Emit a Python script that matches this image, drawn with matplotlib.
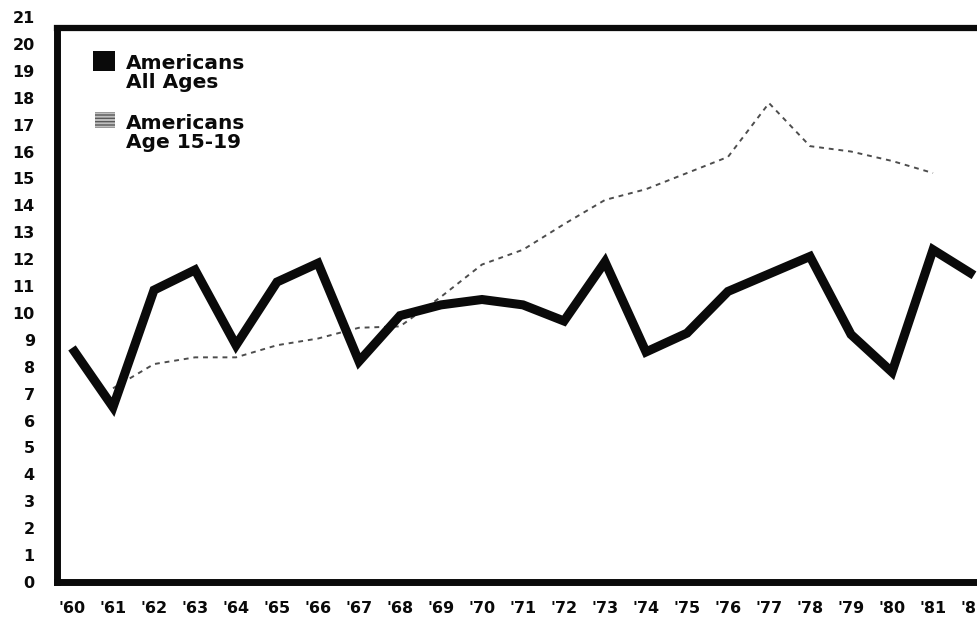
"""Teen vs all-ages rate, 1960-1982: scanned-style line chart."""

import matplotlib

matplotlib.use("Agg")
import matplotlib.pyplot as plt
from matplotlib.patches import Rectangle

years = ["'60", "'61", "'62", "'63", "'64", "'65", "'66", "'67", "'68", "'69", "'70",
         "'71", "'72", "'73", "'74", "'75", "'76", "'77", "'78", "'79", "'80", "'81", "'82"]

all_ages = [8.7, 6.5, 10.85, 11.6, 8.8, 11.15, 11.85, 8.2, 9.9, 10.3, 10.5,
            10.3, 9.7, 11.9, 8.55, 9.25, 10.8, 11.45, 12.1, 9.2, 7.8, 12.35, 11.4]

# teen series starts in '61 and stops at '81
teen_years = years[1:22]
teen = [7.2, 8.1, 8.35, 8.35, 8.8, 9.05, 9.45, 9.5, 10.6, 11.8,
        12.35, 13.3, 14.2, 14.6, 15.2, 15.8, 17.8, 16.2, 16.0, 15.65, 15.2]

y_ticks = list(range(0, 22))

W, H = 978, 631
INK = "#0a0a0a"
FONT = "DejaVu Sans"
FRAME_TOP = 20.6

fig = plt.figure(figsize=(W / 100, H / 100), dpi=100)
fig.patch.set_facecolor("white")

# axes in pixel terms: left spine x=57, y=0 at 582, y=21 at 17; runs past right edge
left, right, top, bottom = 57, 1000, 17, 582
ax = fig.add_axes([left / W, 1 - bottom / H, (right - left) / W, (bottom - top) / H])

xs = list(range(len(years)))
x_of = {y: i for i, y in enumerate(years)}

ax.plot(xs, all_ages, color=INK, lw=6.5, solid_joinstyle="miter", solid_capstyle="butt", zorder=3)
ax.plot([x_of[y] for y in teen_years], teen, color="0.3", lw=1.4,
        linestyle=(0, (2.5, 2.5)), zorder=2)

ax.set_xlim((left - 72) / 41.0, (right - 72) / 41.0)
ax.set_ylim(0, 21)

ax.set_xticks(xs)
ax.set_xticklabels(years)
ax.set_yticks(y_ticks)
ax.set_yticklabels([str(v) for v in y_ticks])
ax.tick_params(axis="both", length=0, labelcolor=INK)
ax.tick_params(axis="y", pad=16)
ax.tick_params(axis="x", pad=14)
for lab in ax.get_xticklabels() + ax.get_yticklabels():
    lab.set_fontfamily(FONT)
    lab.set_fontweight("bold")
    lab.set_fontsize(11.5)

for side in ("top", "right"):
    ax.spines[side].set_visible(False)
for side in ("left", "bottom"):
    ax.spines[side].set_linewidth(5)
    ax.spines[side].set_color(INK)
    ax.spines[side].set_capstyle("projecting")
ax.spines["left"].set_bounds(0, FRAME_TOP)
# top frame line sits a little under the "21" label
ax.axhline(FRAME_TOP, color=INK, lw=4.5, clip_on=False, zorder=4)


def px(x, y):
    return x / W, 1 - y / H


# legend drawn by hand, as in the original
fig.patches.append(Rectangle(px(93, 71), 22 / W, 20 / H, transform=fig.transFigure,
                             facecolor=INK, edgecolor=INK, lw=0))
fig.patches.append(Rectangle(px(95, 128), 20 / W, 16 / H, transform=fig.transFigure,
                             facecolor="0.75", edgecolor="0.35", hatch="-----", lw=0))

legend_lines = [("Americans", 69), ("All Ages", 88), ("Americans", 129), ("Age 15-19", 148)]
for txt, base in legend_lines:
    fig.text(*px(126, base), txt, fontsize=14.5, fontweight="bold", family=FONT,
             color=INK, va="baseline", ha="left")

fig.savefig("out.png", dpi=100, facecolor="white")
